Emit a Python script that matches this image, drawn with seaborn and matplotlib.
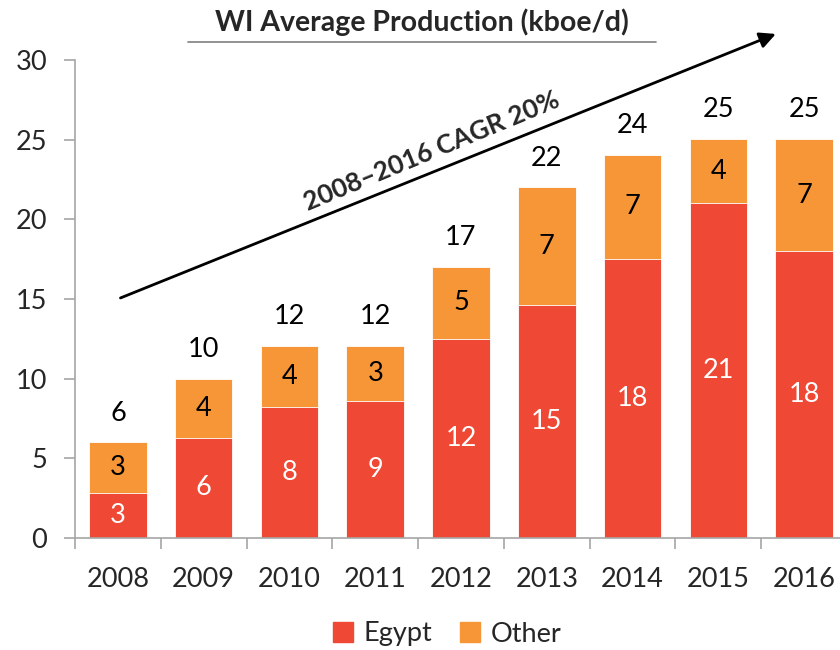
import numpy as np
import pandas as pd
import matplotlib.pyplot as plt
from matplotlib.patches import Patch
import seaborn as sns

years = ["2008", "2009", "2010", "2011", "2012", "2013", "2014", "2015", "2016"]
egypt = [2.8, 6.3, 8.2, 8.6, 12.5, 14.6, 17.5, 21.0, 18.0]
total = [6.0, 10.0, 12.05, 12.05, 17.0, 22.0, 24.05, 25.05, 25.05]
egypt_labels = ["3", "6", "8", "9", "12", "15", "18", "21", "18"]
other_labels = ["3", "4", "4", "3", "5", "7", "7", "4", "7"]
total_labels = ["6", "10", "12", "12", "17", "22", "24", "25", "25"]

RED = "#EF4834"
ORANGE = "#F69637"
GREY = "#A6A6A6"
FS = 19.5

sns.set_theme(style="white")
plt.rcParams['font.family'] = ['Lato', 'DejaVu Sans']

df = pd.DataFrame({"year": years, "egypt": egypt, "total": total})

fig = plt.figure(figsize=(8.4, 6.5), dpi=100)
ax = fig.add_axes([75 / 840, 1 - 538 / 650, 772 / 840, 478 / 650])

# stacked: totals in orange underneath, Egypt drawn on top
sns.barplot(data=df, x="year", y="total", color=ORANGE, width=0.67,
            edgecolor="white", linewidth=0.6, saturation=1, ax=ax)
sns.barplot(data=df, x="year", y="egypt", color=RED, width=0.67,
            edgecolor="white", linewidth=0.6, saturation=1, ax=ax)

ax.set_ylim(0, 30)
ax.set_xlim(-0.5, len(years) - 0.5)
ax.set_yticks([0, 5, 10, 15, 20, 25, 30])
ax.set_xlabel("")
ax.set_ylabel("")

for s in ["top", "right"]:
    ax.spines[s].set_visible(False)
for s in ["left", "bottom"]:
    ax.spines[s].set_color(GREY)
    ax.spines[s].set_linewidth(1.2)

ax.tick_params(axis="y", left=True, length=8, color=GREY, width=1.2,
               labelsize=FS, pad=12)
ax.tick_params(axis="x", which="major", bottom=False, labelsize=FS, pad=15)
ax.set_xticks(np.arange(-0.5, len(years), 1), minor=True)
ax.tick_params(axis="x", which="minor", bottom=True, length=8, color=GREY, width=1.2)

# segment labels
other_bars = ax.containers[0]
egypt_bars = ax.containers[1]
ax.bar_label(egypt_bars, labels=egypt_labels, label_type="center",
             color="white", fontsize=FS)
ax.bar_label(other_bars, labels=total_labels, padding=12, color="black", fontsize=FS)
for i, rect in enumerate(other_bars):
    mid = (egypt[i] + total[i]) / 2
    ax.text(rect.get_x() + rect.get_width() / 2, mid, other_labels[i],
            ha="center", va="center", fontsize=FS, color="black")

# title with underline
fig.text(422 / 840, 1 - 22 / 650, "WI Average Production (kboe/d)",
         ha="center", va="center", fontsize=20.5, fontweight="bold")
fig.add_artist(plt.Line2D([188 / 840, 656 / 840], [1 - 42 / 650, 1 - 42 / 650],
                          color="#7F7F7F", linewidth=1.2))

# CAGR arrow
ax.annotate("", xy=(7.7, 31.7), xytext=(0.0, 15.0),
            arrowprops=dict(arrowstyle="-|>", color="black", lw=2,
                            mutation_scale=24), annotation_clip=False)
ax.text(3.66, 24.3, "2008\u20132016 CAGR 20%", rotation=22.5,
        rotation_mode="anchor", ha="center", va="center",
        fontsize=19, fontweight="bold")

handles = [Patch(color=RED, label="Egypt"), Patch(color=ORANGE, label="Other")]
fig.legend(handles=handles, loc="center", bbox_to_anchor=(447 / 840, 1 - 634 / 650),
           ncol=2, frameon=False, fontsize=FS, handlelength=0.75, handleheight=0.75,
           handletextpad=0.4, columnspacing=1.0)

fig.savefig("out.png", dpi=100)
